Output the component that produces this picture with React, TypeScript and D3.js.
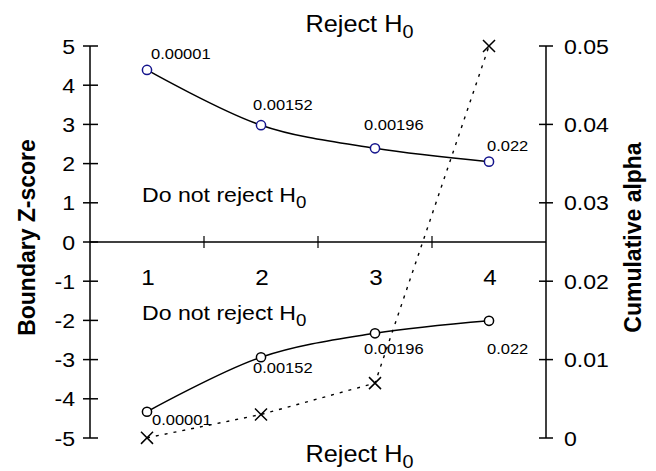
import React from 'react';
import * as d3 from 'd3';

// chart values
const looks = [1, 2, 3, 4];
const upperZ = [4.39, 2.98, 2.39, 2.05];
const lowerZ = [-4.33, -2.94, -2.33, -2.01];
const cumAlpha = [0.00002, 0.003, 0.007, 0.05];
const nominalAlpha = ['0.00001', '0.00152', '0.00196', '0.022'];
const zTicks = [5, 4, 3, 2, 1, 0, -1, -2, -3, -4, -5];
const alphaTicks = [0, 0.01, 0.02, 0.03, 0.04, 0.05];
const xDividers = [1.5, 2.5, 3.5];

const W = 656;
const H = 471;
const FONT = '"Liberation Sans", Arial, Helvetica, sans-serif';
const SX = 1.1; // the source picture is a bit wider than tall

// label nudges, so the p-values sit where they do in the picture
const upDx = [4, -8, -11, -2];
const upDy = [-11, -15, -18, -11];
const loDx = [5, -8, -11, -2];
const loDy = [13, 16, 21, 33];

function T({ x, y, size, anchor = 'start', weight = 'normal', children }: any) {
  return (
    <text
      transform={`translate(${x},${y}) scale(${SX},1)`}
      fontSize={size}
      fontFamily={FONT}
      fontWeight={weight}
      textAnchor={anchor}
      fill="#000"
    >
      {children}
    </text>
  );
}

export default function App() {
  const x = d3.scaleLinear().domain([0.5, 4.5]).range([90, 546]);
  const yZ = d3.scaleLinear().domain([-5, 5]).range([438, 46]);
  const yA = d3.scaleLinear().domain([0, 0.05]).range([438, 46]);

  const zLine = d3
    .line<number>()
    .x((d, i) => x(looks[i]))
    .y((d) => yZ(d))
    .curve(d3.curveCatmullRom.alpha(0.5));

  const aLine = d3
    .line<number>()
    .x((d, i) => x(looks[i]))
    .y((d) => yA(d));

  const cross = d3.symbol().type(d3.symbolTimes).size(96)();

  const x0 = x.range()[0];
  const x1 = x.range()[1];
  const yTop = yZ(5);
  const yBot = yZ(-5);

  return (
    <svg
      width={W}
      height={H}
      style={{ position: 'absolute', left: 0, top: 0, background: '#fff' }}
    >
      <rect width={W} height={H} fill="#fff" />

      {/* left axis */}
      <line x1={x0} x2={x0} y1={yTop} y2={yBot} stroke="#000" strokeWidth={1.5} />
      {zTicks.map((t) => (
        <g key={'z' + t}>
          <line x1={x0 - 7} x2={x0 + 8} y1={yZ(t)} y2={yZ(t)} stroke="#000" strokeWidth={1.5} />
          <T x={x0 - 15} y={yZ(t) + 7.5} size={21} anchor="end">
            {t}
          </T>
        </g>
      ))}

      {/* right axis */}
      <line x1={x1} x2={x1} y1={yA(0)} y2={yA(0.05)} stroke="#000" strokeWidth={1.5} />
      {alphaTicks.map((t) => (
        <g key={'a' + t}>
          <line x1={x1 - 7} x2={x1 + 7} y1={yA(t)} y2={yA(t)} stroke="#000" strokeWidth={1.5} />
          <T x={x1 + 18} y={yA(t) + 7.5} size={21}>
            {String(t)}
          </T>
        </g>
      ))}

      {/* zero line with look dividers */}
      <line x1={x0} x2={x1} y1={yZ(0)} y2={yZ(0)} stroke="#000" strokeWidth={1.5} />
      {xDividers.map((d) => (
        <line key={'d' + d} x1={x(d)} x2={x(d)} y1={yZ(0) - 6} y2={yZ(0) + 6} stroke="#000" strokeWidth={1.2} />
      ))}
      {looks.map((l) => (
        <T key={'l' + l} x={x(l) + 1} y={285} size={22} anchor="middle">
          {l}
        </T>
      ))}

      {/* region notes */}
      <T x={x(2.39)} y={31.5} size={23}>
        Reject H<tspan dy={6.5} fontSize={18}>0</tspan>
      </T>
      <T x={x(2.39)} y={461.5} size={23}>
        Reject H<tspan dy={6.5} fontSize={18}>0</tspan>
      </T>
      <T x={x(1) - 5} y={yZ(1) - 0.5} size={21}>
        Do not reject H<tspan dy={6} fontSize={17}>0</tspan>
      </T>
      <T x={x(1) - 5} y={yZ(-2)} size={21}>
        Do not reject H<tspan dy={6} fontSize={17}>0</tspan>
      </T>

      {/* cumulative alpha, dotted */}
      <path d={aLine(cumAlpha) || ''} fill="none" stroke="#000" strokeWidth={1.4} strokeDasharray="3,6" />
      {cumAlpha.map((a, i) => (
        <path
          key={'x' + i}
          d={cross || ''}
          transform={`translate(${x(looks[i])},${yA(a)})`}
          fill="none"
          stroke="#000"
          strokeWidth={1.5}
        />
      ))}

      {/* boundaries */}
      <path d={zLine(upperZ) || ''} fill="none" stroke="#000" strokeWidth={1.5} />
      <path d={zLine(lowerZ) || ''} fill="none" stroke="#000" strokeWidth={1.5} />
      {upperZ.map((z, i) => (
        <circle key={'u' + i} cx={x(looks[i])} cy={yZ(z)} r={4.6} fill="#fff" stroke="#14148c" strokeWidth={1.5} />
      ))}
      {lowerZ.map((z, i) => (
        <circle key={'o' + i} cx={x(looks[i])} cy={yZ(z)} r={4.6} fill="#fff" stroke="#000" strokeWidth={1.5} />
      ))}

      {nominalAlpha.map((s, i) => (
        <g key={'n' + i}>
          <T x={x(looks[i]) + upDx[i]} y={yZ(upperZ[i]) + upDy[i]} size={15}>
            {s}
          </T>
          <T x={x(looks[i]) + loDx[i]} y={yZ(lowerZ[i]) + loDy[i]} size={15}>
            {s}
          </T>
        </g>
      ))}

      {/* axis titles */}
      <text
        transform={`translate(35,237.5) rotate(-90) scale(1,1.08)`}
        textAnchor="middle"
        fontFamily={FONT}
        fontWeight="bold"
        fontSize={23}
      >
        Boundary Z-score
      </text>
      <text
        transform={`translate(641,237.5) rotate(-90) scale(1,1.08)`}
        textAnchor="middle"
        fontFamily={FONT}
        fontWeight="bold"
        fontSize={23}
      >
        Cumulative alpha
      </text>
    </svg>
  );
}
